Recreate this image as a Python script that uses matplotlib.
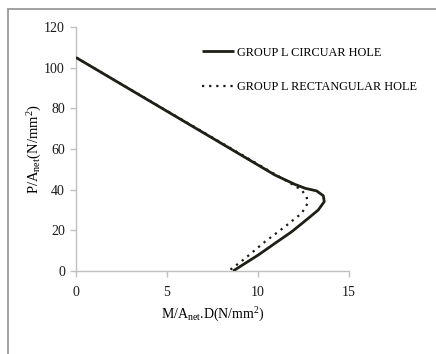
import matplotlib
matplotlib.use("Agg")
import matplotlib.pyplot as plt
from matplotlib.patches import Rectangle

plt.rcParams['font.family'] = ['Liberation Serif', 'DejaVu Serif']
plt.rcParams['mathtext.fontset'] = 'custom'
plt.rcParams['mathtext.rm'] = 'Liberation Serif'
plt.rcParams['mathtext.it'] = 'Liberation Serif'

# Data
circ_x = [0.0, 10.93, 12.03, 12.58, 13.22, 13.59, 13.64, 13.31, 12.76, 11.85, 10.93, 10.02, 8.63]
circ_y = [105.0, 47.2, 42.6, 40.7, 39.4, 37.0, 34.1, 30.0, 25.9, 19.3, 13.6, 7.9, 0.0]
rect_x = [0.0, 11.94, 12.40, 12.67, 12.73, 12.40, 11.48, 10.38, 9.29, 8.46]
rect_y = [105.0, 42.3, 39.8, 36.5, 33.3, 28.4, 21.8, 14.4, 6.2, 0.5]
labels = ["GROUP L CIRCUAR HOLE", "GROUP L RECTANGULAR HOLE"]
x_ticks = [0, 5, 10, 15]
y_ticks = [0, 20, 40, 60, 80, 100, 120]

fig = plt.figure(figsize=(4.36, 3.54), dpi=100)
fig.patches.append(Rectangle((8/436, -0.2), 1.2, 1 - 9/354 + 0.2,
                             transform=fig.transFigure, fill=False,
                             edgecolor='#9a9a9a', lw=1.3, clip_on=False))
ax = fig.add_axes([76/436, 1 - 271/354, 273/436, 244/354])

ax.plot(rect_x, rect_y, color='#1a1a14', lw=1.6, linestyle=(0, (1, 2.2)),
        label=labels[1], zorder=2)
ax.plot(circ_x, circ_y, color='#1f1f17', lw=2.0, label=labels[0],
        solid_capstyle='butt', solid_joinstyle='round', zorder=3)

ax.set_xlim(0, 15)
ax.set_ylim(0, 120)
ax.set_xticks(x_ticks)
ax.set_yticks(y_ticks)
for s in ['top', 'right']:
    ax.spines[s].set_visible(False)
for s in ['left', 'bottom']:
    ax.spines[s].set_color('#c0c0c0')
    ax.spines[s].set_linewidth(1.0)
ax.tick_params(axis='both', colors='#c0c0c0', labelcolor='#1a1a1a',
               labelsize=10, length=4, width=1.0)
ax.tick_params(axis='x', pad=7)
ax.tick_params(axis='y', pad=4)

ax.set_xlabel(r'M/A$_{\mathrm{net}}$.D(N/mm$^{2}$)', fontsize=10, labelpad=5)
ax.set_ylabel(r'P/A$_{\mathrm{net}}$(N/mm$^{2}$)', fontsize=10.5, labelpad=0)

handles, labs = ax.get_legend_handles_labels()
order = [1, 0]
ax.legend([handles[i] for i in order], [labs[i] for i in order],
          loc='upper left', bbox_to_anchor=(0.445, 0.94), frameon=False,
          fontsize=8.8, handlelength=2.6, handletextpad=0.2,
          labelspacing=1.85, borderaxespad=0)

fig.savefig('out.png', dpi=100)
